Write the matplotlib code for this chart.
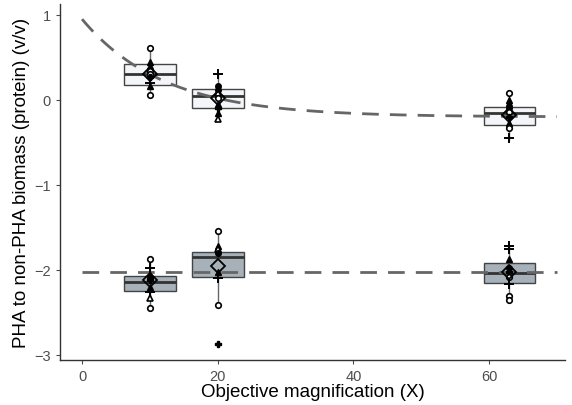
import matplotlib
matplotlib.use("Agg")
import matplotlib.pyplot as plt
import numpy as np

plt.rcParams['font.family'] = ['Liberation Sans', 'DejaVu Sans']

# ---- data ----
positions = [10, 20, 63]
# PHA (top, light boxes)
top_q1 = [0.18, -0.09, -0.30]
top_med = [0.31, 0.05, -0.16]
top_q3 = [0.42, 0.13, -0.08]
top_lo = [0.06, -0.22, -0.47]
top_hi = [0.61, 0.31, 0.08]
top_mean = [0.31, 0.02, -0.18]
# bottom (grey boxes)
bot_q1 = [-2.25, -2.08, -2.15]
bot_med = [-2.14, -1.85, -2.04]
bot_q3 = [-2.07, -1.79, -1.92]
bot_lo = [-2.45, -2.41, -2.36]
bot_hi = [-1.87, -1.54, -1.72]
bot_mean = [-2.12, -1.95, -2.02]

# individual points: (x, value, marker kind)
pts_x = [10, 10, 10, 10, 10, 10, 10, 10, 10,
         20, 20, 20, 20, 20, 20, 20, 20, 20,
         63, 63, 63, 63, 63, 63, 63, 63, 63,
         10, 10, 10, 10, 10, 10, 10, 10, 10,
         20, 20, 20, 20, 20, 20, 20, 20,
         63, 63, 63, 63, 63, 63, 63, 63, 63]
pts_y = [0.61, 0.45, 0.40, 0.34, 0.30, 0.27, 0.20, 0.16, 0.06,
         0.31, 0.16, 0.12, 0.08, 0.02, -0.05, -0.10, -0.15, -0.22,
         0.08, 0.00, -0.04, -0.09, -0.14, -0.20, -0.27, -0.33, -0.45,
         -1.87, -1.98, -2.06, -2.09, -2.12, -2.20, -2.26, -2.33, -2.45,
         -1.54, -1.72, -1.76, -1.80, -2.03, -2.09, -2.41, -2.87,
         -1.72, -1.76, -1.87, -1.98, -2.02, -2.08, -2.17, -2.31, -2.36]
pts_m = ['o', '^f', '^f', 'o', 'o', '*', '+', '^f', 'o',
         '+', 'of', 'of', '^', 'o', '^f', '*', '^f', '^',
         'o', '^f', '^f', 'of', 'o', '*', '^f', 'o', '+',
         'o', '+', '^f', 'of', '*', '^f', '+', '^', 'o',
         'o', '^f', '^', 'of', '^f', '+', 'o', '*',
         '+', '+', '^f', 'of', '*', 'o', '+', 'o', 'o']

# fitted curve parameters and horizontal reference level
fit_a, fit_b, fit_k = -0.20, 1.15, 0.083
h_level = -2.03
x_fit_max = 70

# ---- plot ----
fig = plt.figure(figsize=(5.72, 4.06), dpi=100)
ax = fig.add_axes([0.105, 0.111, 0.883, 0.877])

xs = np.linspace(0, x_fit_max, 300)
ax.plot(xs, fit_a + fit_b * np.exp(-fit_k * xs), color='#666666', lw=2,
        dashes=(6, 4), zorder=3)
ax.plot([0, x_fit_max], [h_level, h_level], color='#666666', lw=2,
        dashes=(6, 4), zorder=3)

def draw_boxes(q1, med, q3, lo, hi, fc):
    stats = []
    for i in range(len(positions)):
        stats.append(dict(q1=q1[i], med=med[i], q3=q3[i], whislo=lo[i],
                          whishi=hi[i], fliers=[]))
    ax.bxp(stats, positions=positions, widths=7.6, patch_artist=True,
           showcaps=False, manage_ticks=False,
           boxprops=dict(facecolor=fc, edgecolor='#444444', lw=1.0),
           medianprops=dict(color='#333333', lw=2),
           whiskerprops=dict(color='#666666', lw=1.0), zorder=2)

draw_boxes(top_q1, top_med, top_q3, top_lo, top_hi, '#f3f5f8')
draw_boxes(bot_q1, bot_med, bot_q3, bot_lo, bot_hi, '#a7b1b9')

for x, y, m in zip(pts_x, pts_y, pts_m):
    if m == 'o':
        ax.plot(x, y, 'o', ms=4, mfc='white', mec='black', mew=1.2, zorder=4)
    elif m == 'of':
        ax.plot(x, y, 'o', ms=4, mfc='black', mec='black', zorder=4)
    elif m == '^f':
        ax.plot(x, y, '^', ms=5, mfc='black', mec='black', zorder=4)
    elif m == '^':
        ax.plot(x, y, '^', ms=5, mfc='white', mec='black', mew=1.2, zorder=4)
    elif m == '+':
        ax.plot(x, y, '+', ms=7, mec='black', mew=1.4, zorder=4)
    elif m == '*':
        ax.plot(x, y, 'P', ms=5, mfc='black', mec='black', zorder=4)

ax.plot(positions, top_mean, 'D', ms=7, mfc='none', mec='black', mew=1.3,
        ls='none', zorder=5)
ax.plot(positions, bot_mean, 'D', ms=7, mfc='none', mec='black', mew=1.3,
        ls='none', zorder=5)

ax.set_xlim(-3.24, 71.2)
ax.set_ylim(-3.06, 1.13)
ax.set_xticks([0, 20, 40, 60])
ax.set_yticks([-3, -2, -1, 0, 1])
ax.set_yticklabels(['\u22123', '\u22122', '\u22121', '0', '1'])
for s in ['top', 'right']:
    ax.spines[s].set_visible(False)
for s in ['left', 'bottom']:
    ax.spines[s].set_color('#333333')
    ax.spines[s].set_linewidth(1.0)
ax.tick_params(colors='#4d4d4d', labelsize=10.5, length=3, width=0.8)
ax.set_xlabel('Objective magnification (X)', fontsize=13.5, labelpad=0)
ax.set_ylabel('PHA to non-PHA biomass (protein) (v/v)', fontsize=13.5, labelpad=3)

fig.savefig('out.png', dpi=100)
